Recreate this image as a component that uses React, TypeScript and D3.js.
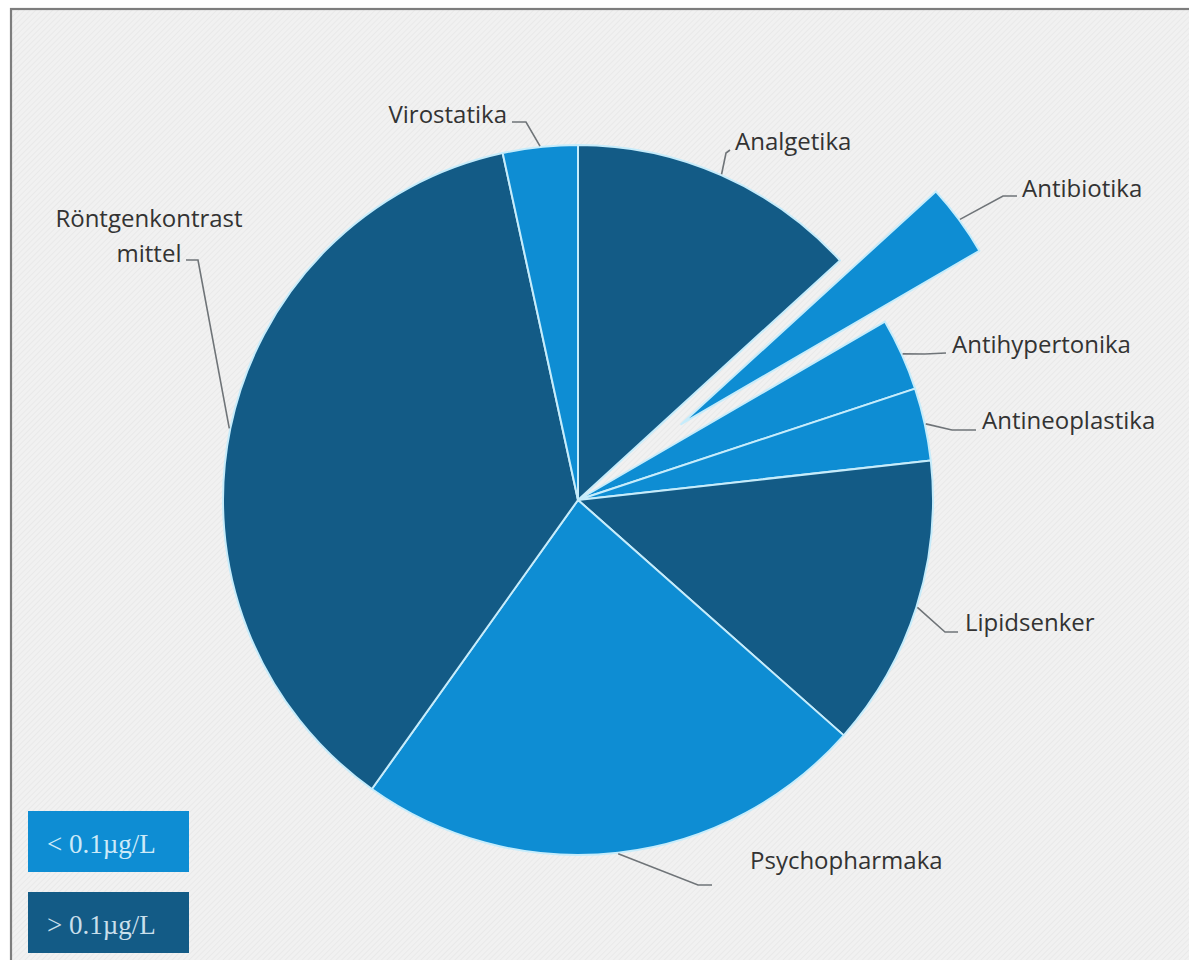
import React from "react";
import * as d3 from "d3";

// ---- data ----
const categories = [
  "Analgetika",
  "Antibiotika",
  "Antihypertonika",
  "Antineoplastika",
  "Lipidsenker",
  "Psychopharmaka",
  "Röntgenkontrastmittel",
  "Virostatika",
];
const shares = [13.2, 3.4, 3.3, 3.3, 13.3, 23.3, 36.7, 3.4];
// concentration class of each group: ">" = > 0.1µg/L, "<" = < 0.1µg/L
const concClass = [">", "<", "<", "<", ">", "<", ">", "<"];
const exploded = [false, true, false, false, false, false, false, false];
const legendLabels = ["< 0.1µg/L", "> 0.1µg/L"];
const legendClasses = ["<", ">"];

// ---- layout ----
const W = 1189;
const H = 960;
const CX = 578;
const CY = 500;
const R = 355;
const R_EXPLODED = 345;
const EXPLODE_OFFSET = 128;
const COLORS: Record<string, string> = { "<": "#0e8dd3", ">": "#135b86" };

type LabelLayout = {
  lines: string[];
  x: number;
  y: number;
  anchor: "start" | "end" | "middle";
  path: [number, number][]; // from label toward pie (end point is added from arc)
};

const labelLayout: LabelLayout[] = [
  { lines: ["Analgetika"], x: 735, y: 150, anchor: "start", path: [[730, 150], [726, 153]] },
  { lines: ["Antibiotika"], x: 1022, y: 197, anchor: "start", path: [[1017, 196], [1003, 196]] },
  { lines: ["Antihypertonika"], x: 952, y: 353, anchor: "start", path: [[946, 353], [925, 354]] },
  { lines: ["Antineoplastika"], x: 982, y: 429, anchor: "start", path: [[976, 430], [952, 430]] },
  { lines: ["Lipidsenker"], x: 965, y: 631, anchor: "start", path: [[958, 632], [945, 632]] },
  { lines: ["Psychopharmaka"], x: 750, y: 869, anchor: "start", path: [[712, 885], [698, 885]] },
  { lines: ["Röntgenkontrast", "mittel"], x: 149, y: 227, anchor: "middle", path: [[186, 260], [198, 260]] },
  { lines: ["Virostatika"], x: 507, y: 123, anchor: "end", path: [[512, 122], [526, 122]] },
];

export default function App() {
  const pie = d3
    .pie<number>()
    .sort(null)
    .value((d) => d)
    .startAngle(0)
    .endAngle(2 * Math.PI);
  const arcs = pie(shares);

  const arcGen = d3.arc<d3.PieArcDatum<number>>().innerRadius(0);

  const slices = arcs.map((a, i) => {
    const mid = (a.startAngle + a.endAngle) / 2;
    const off = exploded[i] ? EXPLODE_OFFSET : 0;
    const r = exploded[i] ? R_EXPLODED : R;
    const dx = Math.sin(mid) * off;
    const dy = -Math.cos(mid) * off;
    const d = arcGen.outerRadius(r)(a) as string;
    const edge: [number, number] = [
      CX + Math.sin(mid) * (r + off + 1),
      CY - Math.cos(mid) * (r + off + 1),
    ];
    return { d, dx, dy, color: COLORS[concClass[i]], edge, i };
  });

  const line = d3.line<[number, number]>();

  return (
    <svg
      width={W}
      height={H}
      viewBox={`0 0 ${W} ${H}`}
      style={{ position: "absolute", left: 0, top: 0, background: "#ffffff" }}
    >
      <defs>
        <pattern id="hatch" width="4" height="4" patternUnits="userSpaceOnUse" patternTransform="rotate(45)">
          <rect width="4" height="4" fill="#f1f1f1" />
          <line x1="0" y1="0" x2="0" y2="4" stroke="#e7e7e7" strokeWidth="1.5" />
        </pattern>
      </defs>
      <rect x={11} y={9} width={W + 20} height={H + 20} fill="url(#hatch)" stroke="#7d7d7d" strokeWidth={2.2} />

      <g transform={`translate(${CX},${CY})`}>
        {slices.map((s) => (
          <path
            key={s.i}
            d={s.d}
            transform={`translate(${s.dx},${s.dy})`}
            fill={s.color}
            stroke="#c6ecfb"
            strokeWidth={2}
            strokeLinejoin="round"
          />
        ))}
      </g>

      {labelLayout.map((l, i) => (
        <g key={i}>
          <path
            d={line([...l.path, slices[i].edge]) as string}
            fill="none"
            stroke="#6f7478"
            strokeWidth={1.6}
          />
          <text
            x={l.x}
            y={l.y}
            textAnchor={l.anchor}
            fontFamily="'Open Sans', sans-serif"
            fontSize={24}
            fill="#333333"
          >
            {l.lines.map((t, j) => (
              <tspan key={j} x={l.x} dy={j === 0 ? 0 : 35}>
                {t}
              </tspan>
            ))}
          </text>
        </g>
      ))}

      {legendLabels.map((t, i) => (
        <g key={t} transform={`translate(28,${811 + i * 81})`}>
          <rect width={161} height={61} fill={COLORS[legendClasses[i]]} />
          <text
            x={19}
            y={42}
            fontFamily="'Liberation Serif', serif"
            fontSize={27}
            fill={i === 0 ? "#cdeaf8" : "#c9dfeb"}
          >
            {t}
          </text>
        </g>
      ))}
    </svg>
  );
}
